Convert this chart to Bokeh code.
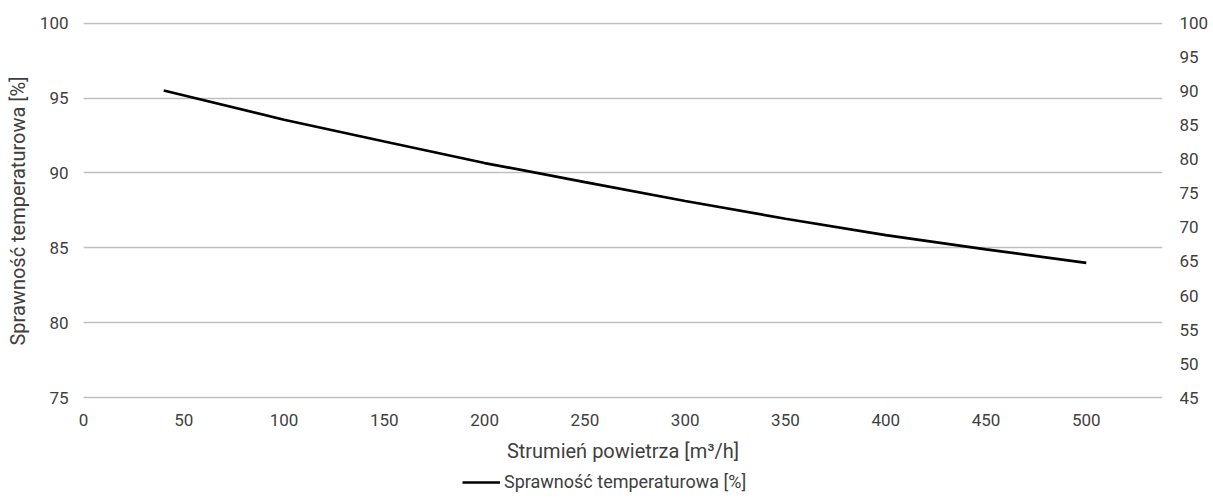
from bokeh.plotting import figure
from bokeh.layouts import column
from bokeh.models import Range1d, LinearAxis, FixedTicker, Legend, LegendItem
from bokeh.embed import file_html
from bokeh.resources import INLINE

# Data
flow = [40, 100, 150, 200, 250, 300, 350, 400, 450, 500]
efficiency = [95.5, 93.55, 92.1, 90.66, 89.39, 88.13, 86.94, 85.85, 84.9, 84.0]
x_ticks = [0, 50, 100, 150, 200, 250, 300, 350, 400, 450, 500]
left_ticks = [75, 80, 85, 90, 95, 100]
right_ticks = [45, 50, 55, 60, 65, 70, 75, 80, 85, 90, 95, 100]
series_name = "Sprawność temperaturowa [%]"
x_title = "Strumień powietrza [m³/h]"
y_title = "Sprawność temperaturowa [%]"

FONT = "Roboto"
TXT = "#404040"
TICK_FS = "17px"
TITLE_FS = "20px"

p = figure(width=1213, height=465, output_backend="svg", toolbar_location=None,
           x_range=Range1d(0, 538), y_range=Range1d(74.88, 100.04),
           min_border_left=83, min_border_right=51, min_border_top=22,
           min_border_bottom=66)
p.outline_line_color = None
p.background_fill_color = "white"
p.border_fill_color = "white"

p.extra_y_ranges = {"right": Range1d(44.736, 100.088)}

# horizontal gridlines at the left-axis ticks
p.hspan(y=left_ticks, line_color="#BFBFBF", line_width=1.5)

r = p.line(flow, efficiency, line_color="black", line_width=2.7)


def style_axis(ax):
    ax.axis_line_color = None
    ax.major_tick_line_color = None
    ax.minor_tick_line_color = None
    ax.major_tick_out = 0
    ax.major_tick_in = 0
    ax.minor_tick_out = 0
    ax.minor_tick_in = 0
    ax.major_label_text_font = FONT
    ax.major_label_text_font_size = TICK_FS
    ax.major_label_text_color = TXT
    ax.axis_label_text_font = FONT
    ax.axis_label_text_font_size = TITLE_FS
    ax.axis_label_text_font_style = "normal"
    ax.axis_label_text_color = TXT


# x axis
xa = p.xaxis[0]
xa.ticker = FixedTicker(ticks=x_ticks)
xa.axis_label = x_title
style_axis(xa)
xa.major_label_standoff = 14
xa.axis_label_standoff = 10

# left axis
ya = p.yaxis[0]
ya.ticker = FixedTicker(ticks=left_ticks)
ya.axis_label = y_title
style_axis(ya)
ya.major_label_standoff = 15
ya.axis_label_standoff = 7

# right axis
ra = LinearAxis(y_range_name="right", ticker=FixedTicker(ticks=right_ticks))
style_axis(ra)
ra.major_label_standoff = 17
p.add_layout(ra, "right")

p.xgrid.visible = False
p.ygrid.visible = False

# legend strip below the chart (its line uses the same data, kept outside the view)
p2 = figure(width=1213, height=36, output_backend="svg", toolbar_location=None,
            x_range=Range1d(0, 1), y_range=Range1d(0, 1),
            x_axis_type=None, y_axis_type=None,
            min_border_left=83, min_border_right=51, min_border_top=0,
            min_border_bottom=0)
p2.outline_line_color = None
p2.grid.visible = False
p2.background_fill_color = "white"
p2.border_fill_color = "white"
lr = p2.line(flow, efficiency, line_color="black", line_width=2.7)

legend = Legend(items=[LegendItem(label=series_name, renderers=[lr])],
                orientation="horizontal", location=(379, 9),
                label_text_font=FONT, label_text_font_size="18px",
                label_text_color=TXT, glyph_width=38, glyph_height=20,
                label_height=20, label_standoff=4,
                border_line_color=None, background_fill_alpha=0,
                padding=0, margin=0, spacing=0)
p2.add_layout(legend, "center")

layout = column(p, p2, spacing=0)
open("out.html", "w").write(file_html(layout, INLINE))
